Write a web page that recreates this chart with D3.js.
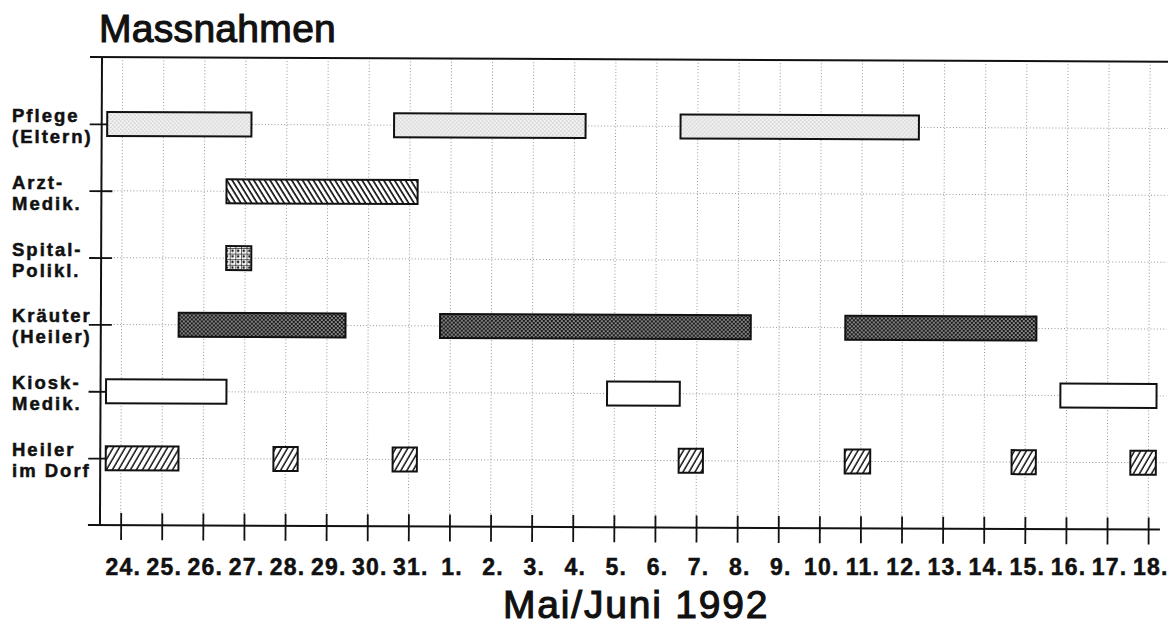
<!DOCTYPE html>
<html>
<head>
<meta charset="utf-8">
<script src="https://cdn.jsdelivr.net/npm/d3@7/dist/d3.min.js"></script>
<style>
  html, body { margin: 0; padding: 0; background: #fff; }
  svg { display: block; }
</style>
</head>
<body>
<svg id="chart" width="1168" height="626"></svg>
<script>
// ---- Data ----
const title = "Massnahmen";
const xTitle = "Mai/Juni 1992";
const dayLabels = ["24.","25.","26.","27.","28.","29.","30.","31.",
  "1.","2.","3.","4.","5.","6.","7.","8.","9.","10.","11.","12.","13.","14.","15.","16.","17.","18."];
const categories = ["Pflege", "Arzt", "Spital", "Kraeuter", "Kiosk", "Heiler"];
const categoryLabels = [
  ["Pflege", "(Eltern)"],
  ["Arzt-", "Medik."],
  ["Spital-", "Polikl."],
  ["Kräuter", "(Heiler)"],
  ["Kiosk-", "Medik."],
  ["Heiler", "im Dorf"]
];
// intervals in day-index units (0 = 24. Mai, 25 = 18. Juni)
const pflege  = [[-0.37, 3.14], [6.61, 11.27], [13.58, 19.38]];
const arzt    = [[2.54, 7.19]];
const spital  = [[2.54, 3.15]];
const kraeuter= [[1.39, 5.45], [7.75, 15.31], [17.61, 22.26]];
const kiosk   = [[-0.37, 2.56], [11.82, 13.59], [22.85, 25.19]];
const heiler  = [[-0.37, 1.40], [3.71, 4.30], [6.61, 7.20], [13.57, 14.16], [17.61, 18.23], [21.67, 22.26], [24.56, 25.18]];
const seriesIntervals = [pflege, arzt, spital, kraeuter, kiosk, heiler];
const patternIds = ["pStipple", "pBack", "pDots", "pDark", "pWhite", "pFwd"];

// ---- Layout ----
const svg = d3.select("#chart");
const x = d3.scaleLinear().domain([0, 25]).range([122.7, 1150.2]);
const y = d3.scaleLinear().domain([0, 7]).range([57, 525]);
const barH = 24;
const font = "'Liberation Sans', Arial, Helvetica, sans-serif";

// ---- Patterns ----
const defs = svg.append("defs");
let p = defs.append("pattern").attr("id", "pStipple").attr("patternUnits", "userSpaceOnUse")
  .attr("width", 4).attr("height", 4);
p.append("rect").attr("width", 4).attr("height", 4).attr("fill", "#f3f3f3");
p.append("circle").attr("cx", 1).attr("cy", 1).attr("r", 0.6).attr("fill", "#8a8a8a");
p.append("circle").attr("cx", 3).attr("cy", 3).attr("r", 0.6).attr("fill", "#8a8a8a");

p = defs.append("pattern").attr("id", "pBack").attr("patternUnits", "userSpaceOnUse")
  .attr("width", 4.6).attr("height", 10).attr("patternTransform", "rotate(-32)");
p.append("rect").attr("width", 4.6).attr("height", 10).attr("fill", "#fff");
p.append("line").attr("x1", 1).attr("x2", 1).attr("y1", 0).attr("y2", 10)
  .attr("stroke", "#111").attr("stroke-width", 1.7);

p = defs.append("pattern").attr("id", "pFwd").attr("patternUnits", "userSpaceOnUse")
  .attr("width", 5.2).attr("height", 10).attr("patternTransform", "rotate(30)");
p.append("rect").attr("width", 5.2).attr("height", 10).attr("fill", "#fff");
p.append("line").attr("x1", 1).attr("x2", 1).attr("y1", 0).attr("y2", 10)
  .attr("stroke", "#111").attr("stroke-width", 1.5);

p = defs.append("pattern").attr("id", "pDots").attr("patternUnits", "userSpaceOnUse")
  .attr("width", 5.6).attr("height", 5.6).attr("x", 1).attr("y", 1);
p.append("rect").attr("width", 5.6).attr("height", 5.6).attr("fill", "#fff");
p.append("path").attr("d", "M0,0H5.6M0,0V5.6").attr("stroke", "#222").attr("stroke-width", 1.4);
p.append("circle").attr("cx", 2.8).attr("cy", 2.8).attr("r", 1.3).attr("fill", "#222");

p = defs.append("pattern").attr("id", "pDark").attr("patternUnits", "userSpaceOnUse")
  .attr("width", 4).attr("height", 4);
p.append("rect").attr("width", 4).attr("height", 4).attr("fill", "#1a1a1a");
p.append("circle").attr("cx", 1).attr("cy", 1).attr("r", 0.85).attr("fill", "#e8e8e8");
p.append("circle").attr("cx", 3).attr("cy", 3).attr("r", 0.85).attr("fill", "#e8e8e8");

p = defs.append("pattern").attr("id", "pWhite").attr("patternUnits", "userSpaceOnUse")
  .attr("width", 4).attr("height", 4);
p.append("rect").attr("width", 4).attr("height", 4).attr("fill", "#fff");

// ---- Title ----
svg.append("text").attr("x", 99).attr("y", 42)
  .attr("font-family", font).attr("font-size", 39).attr("letter-spacing", 0.3)
  .attr("fill", "#111").attr("stroke", "#111").attr("stroke-width", 1.1)
  .text(title);

// ---- Plot group (scan is very slightly tilted) ----
const g = svg.append("g").attr("transform", "rotate(0.25, 102, 57)");

const dayIdx = d3.range(dayLabels.length);
g.append("g").selectAll("line").data(dayIdx).join("line")
  .attr("x1", d => x(d)).attr("x2", d => x(d))
  .attr("y1", y(0)).attr("y2", y(7))
  .attr("stroke", "#8a8a8a").attr("stroke-width", 0.9).attr("stroke-dasharray", "1,2.2");
const rowIdx = d3.range(1, categories.length + 1);
g.append("g").selectAll("line").data(rowIdx).join("line")
  .attr("x1", 102).attr("x2", 1168)
  .attr("y1", d => y(d)).attr("y2", d => y(d))
  .attr("stroke", "#8a8a8a").attr("stroke-width", 0.9).attr("stroke-dasharray", "1,2.2");

g.append("line").attr("x1", 90).attr("x2", 1168).attr("y1", y(0)).attr("y2", y(0))
  .attr("stroke", "#111").attr("stroke-width", 2);
g.append("line").attr("x1", 90).attr("x2", 1162).attr("y1", y(7)).attr("y2", y(7))
  .attr("stroke", "#111").attr("stroke-width", 2);
g.append("line").attr("x1", 102).attr("x2", 102).attr("y1", y(0)).attr("y2", y(7))
  .attr("stroke", "#111").attr("stroke-width", 2);

const xAxis = g.append("g").attr("transform", `translate(0,${y(7)})`)
  .call(d3.axisBottom(x).tickValues(dayIdx).tickSize(15).tickFormat(""));
xAxis.select(".domain").remove();
xAxis.selectAll(".tick line").attr("y1", -12).attr("y2", 15)
  .attr("stroke", "#111").attr("stroke-width", 1.8);

const yAxis = g.append("g").attr("transform", "translate(102,0)")
  .call(d3.axisLeft(y).tickValues(rowIdx).tickSize(12).tickFormat(""));
yAxis.select(".domain").remove();
yAxis.selectAll(".tick line").attr("x1", -12).attr("x2", 11)
  .attr("stroke", "#111").attr("stroke-width", 1.8);

seriesIntervals.forEach((ivs, i) => {
  g.append("g").selectAll("rect").data(ivs).join("rect")
    .attr("x", d => x(d[0]))
    .attr("width", d => x(d[1]) - x(d[0]))
    .attr("y", y(i + 1) - barH / 2)
    .attr("height", barH)
    .attr("fill", `url(#${patternIds[i]})`)
    .attr("stroke", "#111").attr("stroke-width", 2);
});

const xLab = svg.append("g").attr("transform", "translate(0,557)")
  .call(d3.axisBottom(x).tickValues(dayIdx).tickSize(0).tickFormat(i => dayLabels[i]));
xLab.select(".domain").remove();
xLab.selectAll(".tick text")
  .attr("font-family", font).attr("font-size", 23).attr("font-weight", "bold")
  .attr("letter-spacing", 1.2).attr("fill", "#111")
  .attr("stroke", "#111").attr("stroke-width", 0.5)
  .attr("dy", 0).attr("y", 18);

categoryLabels.forEach((lines, i) => {
  const t = svg.append("text").attr("font-family", font).attr("font-size", 18.5)
    .attr("font-weight", "bold").attr("letter-spacing", 2).attr("fill", "#111")
    .attr("stroke", "#111").attr("stroke-width", 0.5);
  t.append("tspan").attr("x", 12).attr("y", y(i + 1) - 2).text(lines[0]);
  t.append("tspan").attr("x", 12).attr("y", y(i + 1) + 19).text(lines[1]);
});

svg.append("text").attr("x", 503).attr("y", 618)
  .attr("font-family", font).attr("font-size", 39).attr("letter-spacing", 1.8)
  .attr("fill", "#111").attr("stroke", "#111").attr("stroke-width", 1.1)
  .text(xTitle);
</script>
</body>
</html>
